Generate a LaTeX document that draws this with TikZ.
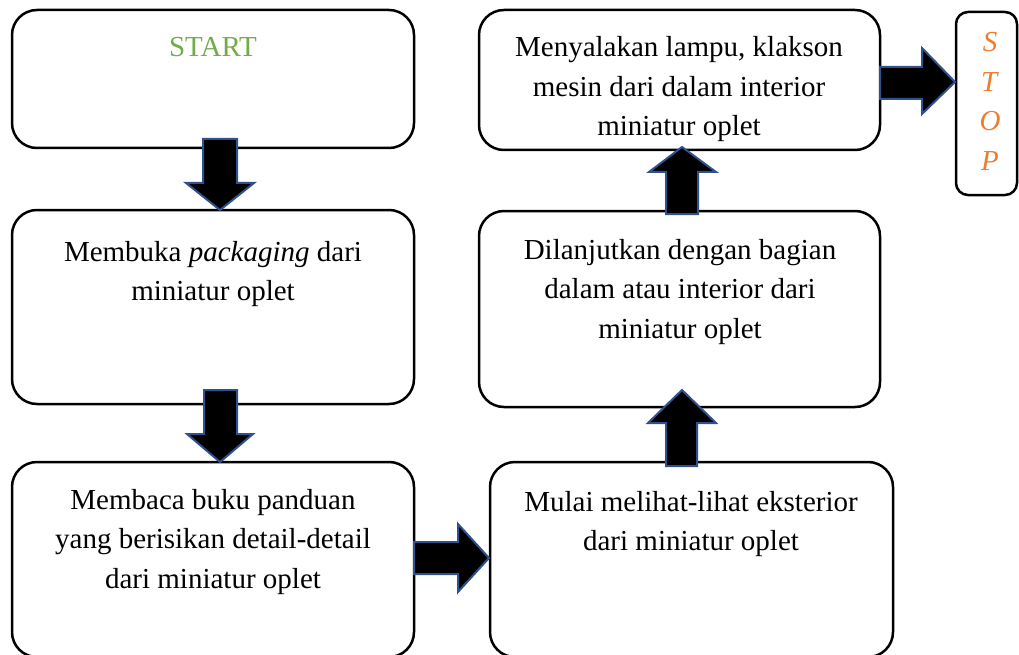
\documentclass[tikz,border=0pt]{standalone}
\usepackage{fontspec}
\setmainfont{Liberation Serif}
\definecolor{startgreen}{HTML}{70AD47}
\definecolor{stoporange}{HTML}{ED7D31}
\definecolor{arrowblue}{HTML}{2F528F}
\begin{document}
\begin{tikzpicture}[x=1pt,y=-1pt,
  box/.style={draw=black, line width=2.5pt, rounded corners=25pt, rectangle, inner sep=0pt},
  blockarrow/.style={fill=black, draw=arrowblue, line width=2pt, line join=miter},
  txt/.style={anchor=base, inner sep=0pt, font=\fontsize{29}{39.5}\selectfont}]
\useasboundingbox (0,0) rectangle (1019,655);
% boxes
\node[box, minimum width=402pt, minimum height=138pt] (b1) at (213,79) {};
\node[box, minimum width=402pt, minimum height=194pt] (b2) at (213,307) {};
\node[box, minimum width=402pt, minimum height=195pt] (b3) at (213,559.5) {};
\node[box, minimum width=403pt, minimum height=195pt] (b4) at (691.5,559.5) {};
\node[box, minimum width=401pt, minimum height=196pt] (b5) at (679.5,309) {};
\node[box, minimum width=401pt, minimum height=140pt] (b6) at (679.5,80) {};
\node[box, rounded corners=12pt, minimum width=61pt, minimum height=183pt] (b7) at (986.5,103.5) {};
% block arrows
\draw[blockarrow] (203,139) -- (237,139) -- (237,183) -- (254,183) -- (220,210) -- (186,183) -- (203,183) -- cycle;
\draw[blockarrow] (204,390) -- (237,390) -- (237,434) -- (253,434) -- (220,462) -- (187,434) -- (204,434) -- cycle;
\draw[blockarrow] (414,542) -- (458,542) -- (458,524) -- (489,558) -- (458,592) -- (458,574) -- (414,574) -- cycle;
\draw[blockarrow] (666,466) -- (666,423) -- (648,423) -- (682,390) -- (716,423) -- (697,423) -- (697,466) -- cycle;
\draw[blockarrow] (666,214) -- (666,172) -- (649,172) -- (682,147) -- (716,172) -- (698,172) -- (698,214) -- cycle;
\draw[blockarrow] (880,67) -- (922,67) -- (922,48) -- (955,82) -- (922,114) -- (922,99) -- (880,99) -- cycle;
% texts
\node[txt, text=startgreen] (t1) at (213,57) {START};
\node[txt] (t2) at (213,261) {\begin{tabular}[t]{@{}c@{}}Membuka \textit{packaging} dari\\miniatur oplet\end{tabular}};
\node[txt] (t3) at (213,509) {\begin{tabular}[t]{@{}c@{}}Membaca buku panduan\\yang berisikan detail-detail\\dari miniatur oplet\end{tabular}};
\node[txt] (t4) at (691,511) {\begin{tabular}[t]{@{}c@{}}Mulai melihat-lihat eksterior\\dari miniatur oplet\end{tabular}};
\node[txt] (t5) at (680,259) {\begin{tabular}[t]{@{}c@{}}Dilanjutkan dengan bagian\\dalam atau interior dari\\miniatur oplet\end{tabular}};
\node[txt] (t6) at (679,57) {\begin{tabular}[t]{@{}c@{}}Menyalakan lampu, klakson\\mesin dari dalam interior\\miniatur oplet\end{tabular}};
\node[txt, text=stoporange] (t7) at (990,52) {\begin{tabular}[t]{@{}c@{}}\textit{S}\\\textit{T}\\\textit{O}\\\textit{P}\end{tabular}};
\end{tikzpicture}
\end{document}
